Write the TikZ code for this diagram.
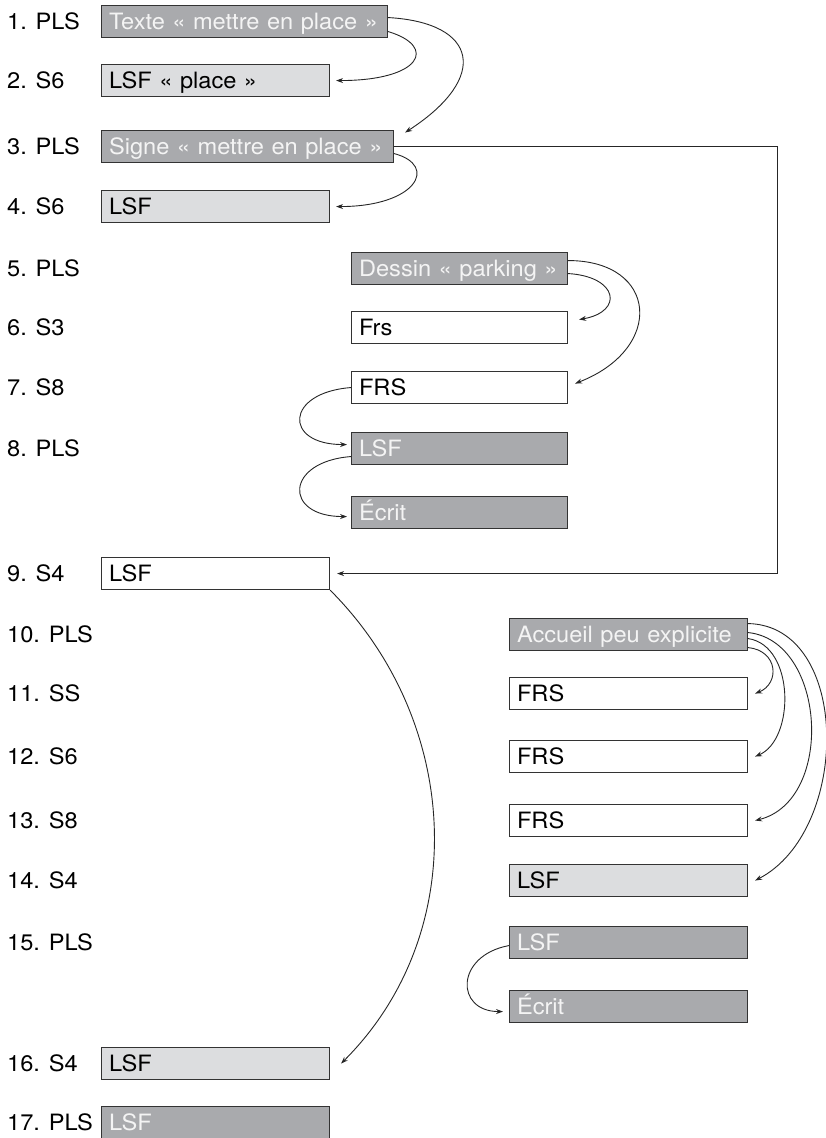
\documentclass[tikz,border=0pt]{standalone}
\usepackage{fontspec}
\setmainfont[FakeStretch=1.05]{TeX Gyre Heros}
\usetikzlibrary{arrows.meta}

\definecolor{boxdark}{HTML}{A9AAAD}
\definecolor{boxlight}{HTML}{DCDDDF}
\definecolor{edge}{HTML}{333333}
\definecolor{pale}{HTML}{F4F4F4}

\begin{document}
\begin{tikzpicture}[x=1pt,y=-1pt,
  every node/.style={font=\fontsize{22.5}{26}\selectfont},
  tag/.style={anchor=west, inner sep=0pt, text=black},
  cell/.style={draw=edge, line width=1.1pt, anchor=north west, inner xsep=7.5pt,
    inner ysep=0pt, minimum height=32pt, align=left, text height=16.2pt, text depth=0pt},
  dark/.style={cell, fill=boxdark, text=pale},
  light/.style={cell, fill=boxlight, text=black},
  plain/.style={cell, fill=white, text=black},
  link/.style={draw=black!85, line width=0.9pt, -{Stealth[length=7pt,width=5pt]}}
]
\useasboundingbox (0,0) rectangle (825,1138);

% row labels
\node[tag] (l1)  at (7,21)   {1. PLS};
\node[tag] (l2)  at (7,80)   {2. S6};
\node[tag] (l3)  at (7,146)  {3. PLS};
\node[tag] (l4)  at (7,206)  {4. S6};
\node[tag] (l5)  at (7,268)  {5. PLS};
\node[tag] (l6)  at (7,327)  {6. S3};
\node[tag] (l7)  at (7,387)  {7. S8};
\node[tag] (l8)  at (7,448)  {8. PLS};
\node[tag] (l9)  at (7,573)  {9. S4};
\node[tag] (l10) at (7,634)  {10. PLS};
\node[tag] (l11) at (7,693)  {11. SS};
\node[tag] (l12) at (7,756)  {12. S6};
\node[tag] (l13) at (7,820)  {13. S8};
\node[tag] (l14) at (7,880)  {14. S4};
\node[tag] (l15) at (7,942)  {15. PLS};
\node[tag] (l16) at (7,1063) {16. S4};
\node[tag] (l17) at (7,1122) {17. PLS};

% boxes
\node[dark,  text width=271pt] (b1)  at (101,5)    {Texte « mettre en place »};
\node[light, text width=213pt] (b2)  at (101,64)   {LSF « place »};
\node[dark,  text width=277pt] (b3)  at (101,130)  {Signe « mettre en place »};
\node[light, text width=213pt] (b4)  at (101,190)  {LSF};
\node[dark,  text width=201pt] (b5)  at (351,252)  {Dessin « parking »};
\node[plain, text width=201pt] (b6)  at (351,311)  {Frs};
\node[plain, text width=201pt] (b7)  at (351,371)  {FRS};
\node[dark,  text width=201pt] (b8)  at (351,432)  {LSF};
\node[dark,  text width=201pt] (b8e) at (351,496)  {Écrit};
\node[plain, text width=213pt] (b9)  at (101,557)  {LSF};
\node[dark,  text width=223pt] (b10) at (509,618)  {Accueil peu explicite};
\node[plain, text width=223pt] (b11) at (509,677)  {FRS};
\node[plain, text width=223pt] (b12) at (509,740)  {FRS};
\node[plain, text width=223pt] (b13) at (509,804)  {FRS};
\node[light, text width=223pt] (b14) at (509,864)  {LSF};
\node[dark,  text width=223pt] (b15) at (509,926)  {LSF};
\node[dark,  text width=223pt] (b15e) at (509,990) {Écrit};
\node[light, text width=213pt] (b16) at (101,1047) {LSF};
\node[dark,  text width=213pt] (b17) at (101,1106) {LSF};

% connectors
\draw[link] ([yshift=-10pt]b1.east) .. controls +(50,15) and +(85,0) .. ([xshift=6pt]b2.east);
\draw[link] ([yshift=4pt]b1.east) .. controls +(90,5) and +(85,-55) .. ([xshift=11pt,yshift=14pt]b3.east);
\draw[link] ([yshift=-7pt]b3.east) .. controls +(45,12) and +(80,0) .. ([xshift=6pt]b4.east);
\draw[link] (b3.east) -- ++(383,0) |- ([xshift=7pt]b9.east);

\draw[link] ([yshift=-5pt]b5.east) .. controls +(50,3) and +(45,-8) .. ([xshift=11pt,yshift=8pt]b6.east);
\draw[link] ([yshift=8pt]b5.east) .. controls +(90,0) and +(90,-35) .. ([xshift=7pt,yshift=4pt]b7.east);
\draw[link] (b7.west) .. controls +(-66,5) and +(-64,0) .. ([xshift=-4pt,yshift=4pt]b8.west);
\draw[link] ([yshift=-8pt]b8.west) .. controls +(-66,5) and +(-64,0) .. ([xshift=-4pt,yshift=-4pt]b8e.west);

\draw[link] (b9.south east) .. controls +(131,131) and +(131,-131) .. ([xshift=11pt]b16.east);

\draw[link] ([yshift=-13pt]b10.east) .. controls +(30,3) and +(25,-10) .. ([xshift=7pt]b11.east);
\draw[link] ([yshift=-4pt]b10.east) .. controls +(47,7) and +(40,-17) .. ([xshift=7pt]b12.east);
\draw[link] ([yshift=2pt]b10.east) .. controls +(78,8) and +(80,-20) .. ([xshift=7pt]b13.east);
\draw[link] ([yshift=11pt]b10.east) .. controls +(103,2) and +(96,-50) .. ([xshift=7pt]b14.east);

\draw[link] ([yshift=-3pt]b15.west) .. controls +(-54,10) and +(-48,0) .. ([xshift=-6pt,yshift=-5pt]b15e.west);
\end{tikzpicture}
\end{document}
